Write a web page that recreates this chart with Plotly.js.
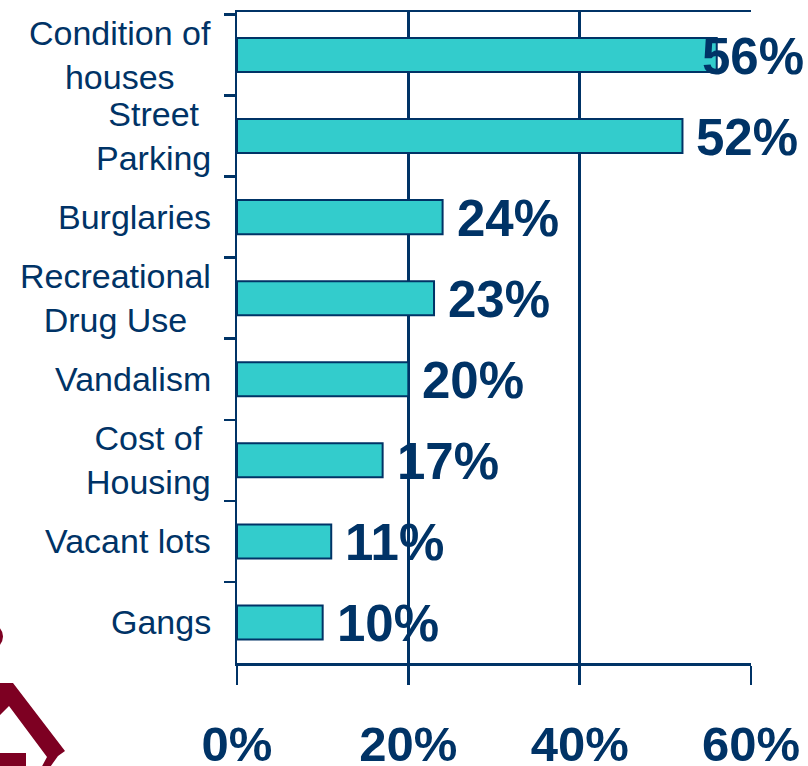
<!DOCTYPE html>
<html>
<head>
<meta charset="utf-8">
<script src="https://cdn.plot.ly/plotly-3.0.1.min.js"></script>
<style>
  html, body { margin: 0; padding: 0; background: #ffffff; }
  #chart { width: 808px; height: 766px; }
</style>
</head>
<body>
<div id="chart"></div>
<script>
// ---- data ----
var categories = ["Condition of houses", "Street Parking", "Burglaries", "Recreational Drug Use",
                  "Vandalism", "Cost of Housing", "Vacant lots", "Gangs"];
var categoryLabels = ["Condition of<br>houses", "Street<br>Parking", "Burglaries", "Recreational<br>Drug Use",
                      "Vandalism", "Cost of<br>Housing", "Vacant lots", "Gangs"];
var percentValues = [56, 52, 24, 23, 20, 17, 11, 10];
var xTickValues = [0, 20, 40, 60];
var xTickLabels = ["0%", "20%", "40%", "60%"];

// ---- style ----
var NAVY = "#003366";
var TEAL = "#33CCCC";
var MAROON = "#7D0022";
var FONT = "Liberation Sans, Arial, sans-serif";
var W = 808, H = 766;
var M = {l: 237, r: 57, t: 12, b: 103};
var plotW = W - M.l - M.r, plotH = H - M.t - M.b;
var xMax = 60;

// value label annotations (shifted left when they would run off the page)
var labelFontSize = 51;
var approxLabelW = 104;
var annotations = [];
percentValues.forEach(function (v, i) {
  var barEnd = M.l + v / xMax * plotW;
  var shift = 12;
  if (barEnd + shift + approxLabelW > W - 4) shift = (W - 4) - approxLabelW - barEnd;
  annotations.push({
    xref: "x", yref: "y", x: v, y: categories[i],
    text: v + "%", showarrow: false, xanchor: "left", yanchor: "middle",
    xshift: shift, yshift: -1,
    font: {family: FONT, size: labelFontSize, color: NAVY, weight: "bold"}
  });
});
// category labels (centered multi-line)
categoryLabels.forEach(function (t, i) {
  annotations.push({
    xref: "paper", yref: "y", x: 0, y: categories[i],
    text: t, showarrow: false, xanchor: "right", yanchor: "middle", align: "center",
    xshift: -24,
    font: {family: FONT, size: 34, color: NAVY}
  });
});

// decorative logo fragment (pixel -> paper conversion)
function px(x) { return (x - M.l) / plotW; }
function py(y) { return (M.t + plotH - y) / plotH; }
function pathFrom(pts) {
  return "M " + pts.map(function (p) { return px(p[0]) + "," + py(p[1]); }).join(" L ") + " Z";
}
var shapes = [
  {type: "path", xref: "paper", yref: "paper", layer: "above",
   path: pathFrom([[-5, 683], [13, 683], [65, 751], [58, 756], [48, 770], [40, 770], [47, 757], [9, 706], [-5, 720]]),
   fillcolor: MAROON, line: {width: 0}},
  {type: "rect", xref: "paper", yref: "paper", layer: "above",
   x0: px(-5), x1: px(26), y0: py(770), y1: py(753),
   fillcolor: MAROON, line: {width: 0}},
  {type: "circle", xref: "paper", yref: "paper", layer: "above",
   x0: px(-26), x1: px(3), y0: py(650), y1: py(623),
   fillcolor: MAROON, line: {width: 0}}
];

var trace = {
  type: "bar", orientation: "h",
  x: percentValues, y: categories,
  width: 0.42,
  marker: {color: TEAL, line: {color: NAVY, width: 2}},
  hoverinfo: "none"
};

var layout = {
  width: W, height: H,
  margin: M,
  paper_bgcolor: "#ffffff", plot_bgcolor: "#ffffff",
  showlegend: false,
  font: {family: FONT, color: NAVY},
  xaxis: {
    range: [0, xMax], fixedrange: true,
    tickvals: xTickValues, ticktext: xTickLabels,
    ticks: "outside", ticklen: 19, tickwidth: 2.5, tickcolor: NAVY,
    showgrid: true, gridcolor: NAVY, gridwidth: 2.5,
    zeroline: false,
    showline: true, linecolor: NAVY, linewidth: 2.5, mirror: true,
    ticklabelstandoff: 18,
    tickfont: {family: FONT, size: 49, color: NAVY, weight: "bold"}
  },
  yaxis: {
    type: "category", categoryorder: "array", categoryarray: categories,
    autorange: "reversed",
    tickson: "boundaries",
    ticks: "outside", ticklen: 11, tickwidth: 2.5, tickcolor: NAVY,
    showticklabels: false, showgrid: false, zeroline: false,
    showline: true, linecolor: NAVY, linewidth: 2.5
  },
  annotations: annotations,
  shapes: shapes
};

Plotly.newPlot("chart", [trace], layout, {staticPlot: true, displayModeBar: false});
</script>
</body>
</html>
